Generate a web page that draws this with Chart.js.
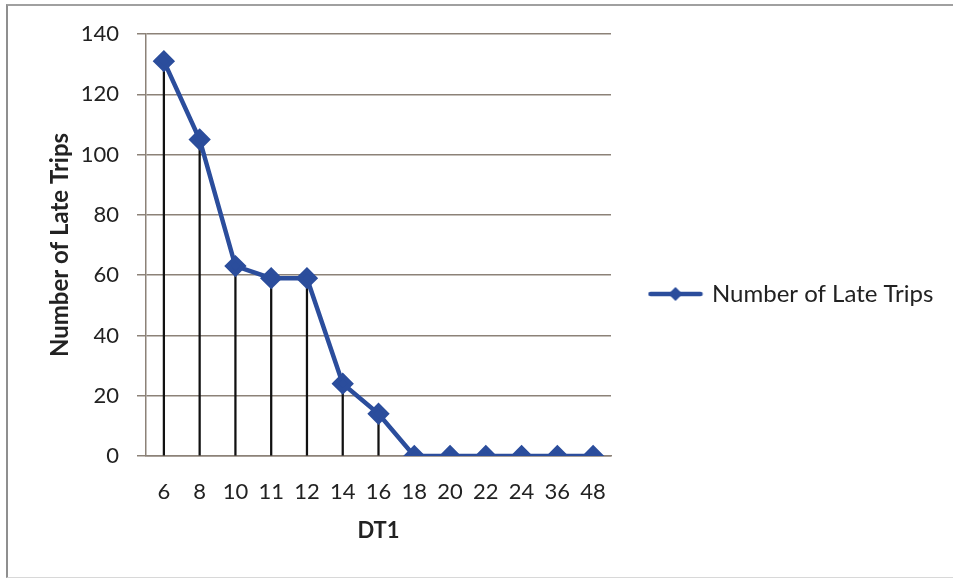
<!DOCTYPE html>
<html>
<head>
<meta charset="utf-8">
<script src="https://cdn.jsdelivr.net/npm/chart.js@4/dist/chart.umd.min.js"></script>
<style>
  html, body { margin: 0; padding: 0; background: #fff; }
  #wrap { position: relative; width: 953px; height: 578px; }
  #frame { position: absolute; left: 6px; top: 4px; width: 960px; height: 571px;
           border-left: 2px solid #8f8f8f; border-top: 2px solid #a0a0a0; border-bottom: 1px solid #d8d8d8;
           pointer-events: none; }
</style>
</head>
<body>
<div id="wrap">
  <canvas id="grafico" width="953" height="578"></canvas>
  <div id="frame"></div>
</div>
<script>
// datos
const categorias = ['6', '8', '10', '11', '12', '14', '16', '18', '20', '22', '24', '36', '48'];
const viajesTarde = [131, 105, 63, 59, 59, 24, 14, 0, 0, 0, 0, 0, 0];
const ticksY = [0, 20, 40, 60, 80, 100, 120, 140];

const azul = '#2b4d9c';
const rejilla = '#8c8278';
const fuente = 'Lato, "Open Sans", sans-serif';

//------ icono de leyenda: linea con rombo ------//
const icono = document.createElement('canvas');
icono.width = 56; icono.height = 16;
let ic = icono.getContext('2d');
ic.strokeStyle = azul; ic.lineWidth = 4.5; ic.lineCap = 'round';
ic.beginPath(); ic.moveTo(3, 8); ic.lineTo(53, 8); ic.stroke();
ic.fillStyle = azul;
ic.beginPath(); ic.moveTo(28, 1); ic.lineTo(35, 8); ic.lineTo(28, 15); ic.lineTo(21, 8); ic.closePath(); ic.fill();

//------ sube la leyenda un poco (Excel la centra en todo el alto) ------//
const subirLeyenda = {
  id: 'subirLeyenda',
  afterLayout(chart) {
    chart.legend.top -= 12;
    chart.legend.bottom -= 12;
  }
};

let ctx = document.querySelector('#grafico');
let grafico = new Chart(ctx, {
  type: 'line',
  data: {
    labels: categorias,
    datasets: [{
      type: 'line',
      label: 'Number of Late Trips',
      data: viajesTarde,
      borderColor: azul,
      backgroundColor: azul,
      borderWidth: 4.5,
      tension: 0,
      pointStyle: 'rectRot',
      pointRadius: 8,
      pointBackgroundColor: azul,
      pointBorderColor: azul,
      order: 1
    }, {
      // lineas verticales desde cada punto al eje
      type: 'bar',
      label: 'drop',
      data: viajesTarde,
      backgroundColor: '#111',
      barThickness: 1.6,
      order: 2
    }]
  },
  plugins: [subirLeyenda],
  options: {
    responsive: false,
    animation: false,
    layout: { padding: { top: 34, right: 8, bottom: 0, left: 0 } },
    plugins: {
      tooltip: { enabled: false },
      legend: {
        position: 'right',
        labels: {
          color: '#222',
          font: { family: fuente, size: 24 },
          padding: 40,
          usePointStyle: true,
          pointStyleWidth: 49,
          generateLabels: chart => [{
            text: 'Number of Late Trips',
            pointStyle: icono,
            fillStyle: azul,
            strokeStyle: azul,
            fontColor: '#222',
            lineWidth: 0,
            datasetIndex: 0
          }]
        }
      }
    },
    scales: {
      x: {
        offset: true,
        grid: { display: false },
        border: { display: true, color: rejilla, width: 1.5 },
        ticks: { color: '#222', font: { family: fuente, size: 22 }, padding: 15, maxRotation: 0 },
        title: { display: true, text: 'DT1', color: '#222', font: { family: fuente, size: 22, weight: 'bold' }, padding: { top: 10, bottom: 34 } },
        afterFit: s => { s.height = 122; }
      },
      y: {
        min: 0,
        max: 140,
        afterBuildTicks: s => { s.ticks = ticksY.map(v => ({ value: v })); },
        grid: { color: rejilla, lineWidth: 1.5, tickLength: 9, drawTicks: true },
        border: { display: true, color: rejilla, width: 1.5 },
        ticks: { color: '#222', font: { family: fuente, size: 22 }, padding: 18 },
        title: { display: true, text: 'Number of Late Trips', color: '#222', font: { family: fuente, size: 24, weight: 'bold' }, padding: { top: 46, bottom: 0 } },
        afterFit: s => { s.width = 146; }
      }
    }
  }
});

//------ ancho fijo para la leyenda (el layout la limita a un cuarto) ------//
const fitLeyenda = grafico.legend.fit;
grafico.legend.fit = function () {
  fitLeyenda.call(this);
  this.width = 334;
};
grafico.update();
</script>
</body>
</html>
